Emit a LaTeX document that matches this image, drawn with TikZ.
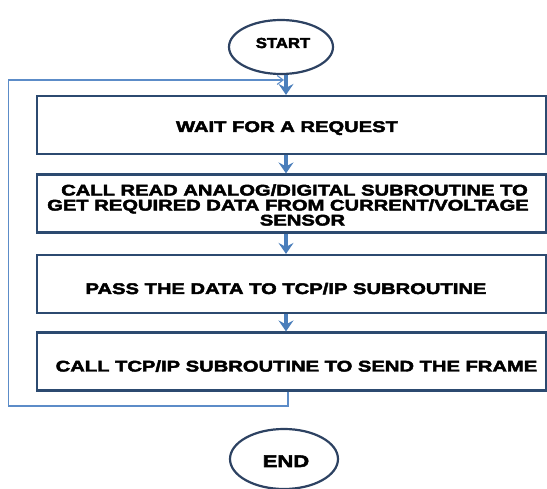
\documentclass[tikz,border=0pt]{standalone}
\usepackage{fontspec}
\usetikzlibrary{arrows.meta,shapes.geometric}
\newfontfamily\boxfont[FakeStretch=1.31,FakeBold=3]{Liberation Sans}
\newfontfamily\startfont[FakeStretch=1.15,FakeBold=3]{Liberation Sans}
\definecolor{boxc}{RGB}{44,74,112}
\definecolor{ovc}{RGB}{45,66,98}
\definecolor{arrc}{RGB}{74,126,187}
\definecolor{loopc}{RGB}{92,140,200}
\begin{document}
\begin{tikzpicture}[x=1pt,y=-1pt,
  boxst/.style={draw=boxc,line width=2.2pt,minimum width=509pt,minimum height=58pt,inner sep=0pt},
  ovalst/.style={draw=ovc,line width=2.2pt,ellipse,inner sep=0pt},
  flow/.style={draw=arrc,line width=4pt,-{Stealth[length=11pt,width=15pt,inset=4pt]}},
  loopst/.style={draw=loopc,line width=1.1pt,-{Straight Barb[length=6pt,width=9pt]},shorten >=2pt},
  lbl/.style={font=\boxfont\bfseries\fontsize{15.4}{15}\selectfont,anchor=base,inner sep=0pt}]
\useasboundingbox (0,0) rectangle (547,489);
\coordinate (ax) at (286,0);
\coordinate (lb) at (288,406);
\coordinate (lt) at (8.5,80);
\node[ovalst,minimum width=104pt,minimum height=54pt] (start) at (281,47) {};
\node[font=\startfont\bfseries\fontsize{14.5}{15}\selectfont,anchor=base,inner sep=0pt] (startt) at (283,48) {START};
\node[boxst] (b1) at (291.5,125) {};
\node[boxst] (b2) at (291.5,203.5) {};
\node[boxst] (b3) at (291.5,284) {};
\node[boxst] (b4) at (291.5,361.5) {};
\node[ovalst,minimum width=108pt,minimum height=60pt] (end) at (284,459) {};
\node[lbl] (t1) at (287,132) {WAIT FOR A REQUEST};
\node[lbl,align=center,anchor=center] (t2) at (288,205) {\hspace*{13pt}CALL READ ANALOG/DIGITAL SUBROUTINE TO\\GET REQUIRED DATA FROM CURRENT/VOLTAGE\\\hspace*{29pt}SENSOR};
\node[lbl] (t3) at (286,294) {PASS THE DATA TO TCP/IP SUBROUTINE};
\node[lbl] (t4) at (296.5,371.5) {CALL TCP/IP SUBROUTINE TO SEND THE FRAME};
\node[font=\boxfont\bfseries\fontsize{16.8}{17}\selectfont,anchor=base,inner sep=0pt] (endt) at (286,467) {END};
\draw[flow] (start.south -| ax) -- (b1.north -| ax);
\draw[flow] (b1.south -| ax) -- (b2.north -| ax);
\draw[flow] (b2.south -| ax) -- (b3.north -| ax);
\draw[flow] (b3.south -| ax) -- (b4.north -| ax);
\draw[loopst] (b4.south -| lb) -- (lb) -| (lt) -- (lt -| ax);
\end{tikzpicture}
\end{document}
